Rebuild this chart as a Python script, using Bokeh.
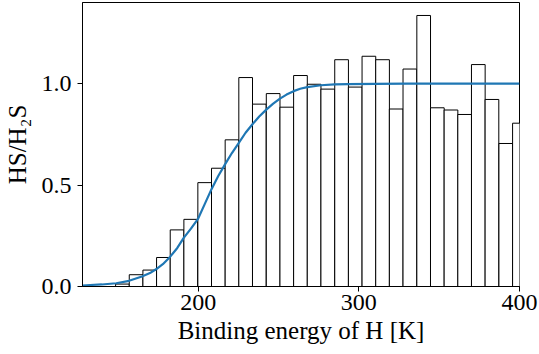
from bokeh.plotting import figure
from bokeh.models import FixedTicker, PrintfTickFormatter, Range1d
from bokeh.embed import file_html
from bokeh.resources import INLINE

# ---- data ----
bin_left = [148.6, 157.1, 165.6, 174.1, 182.6, 191.1, 199.8, 208.3, 216.8, 225.3,
            233.8, 242.4, 250.9, 259.4, 267.9, 276.4, 285.0, 293.5, 302.0, 310.5,
            319.0, 327.5, 336.1, 344.6, 353.1, 361.6, 370.1, 378.6, 387.2, 395.7]
bin_width = 8.52
ratio = [0.012, 0.058, 0.081, 0.143, 0.279, 0.331, 0.512, 0.583, 0.723, 1.030,
         0.899, 0.951, 0.884, 1.040, 0.997, 0.973, 1.118, 0.983, 1.135, 1.118,
         0.875, 1.072, 1.336, 0.881, 0.870, 0.848, 1.094, 0.922, 0.705, 0.805]

fit_x = [128, 140, 149, 157, 165, 170, 174, 178, 182.6, 187, 191, 195.5, 200, 204,
         208.3, 212.5, 216.8, 221, 225.3, 229.5, 233.8, 238, 242.4, 246.5, 250.9,
         255, 259.4, 263.5, 267.9, 276.4, 285, 293.5, 310, 330, 400]
fit_y = [0.005, 0.010, 0.016, 0.028, 0.049, 0.066, 0.086, 0.110, 0.147, 0.190,
         0.240, 0.285, 0.335, 0.405, 0.480, 0.545, 0.603, 0.658, 0.708, 0.758,
         0.800, 0.838, 0.872, 0.900, 0.926, 0.946, 0.963, 0.975, 0.983, 0.992,
         0.996, 0.998, 0.999, 1.0, 1.0]

x_ticks = [200, 300, 400]
y_ticks = [0.0, 0.5, 1.0]

FONT = "Liberation Serif"

p = figure(width=539, height=354, output_backend="svg", toolbar_location=None,
           x_range=Range1d(128, 400), y_range=Range1d(0, 1.4),
           min_border_left=81, min_border_right=20, min_border_top=2,
           min_border_bottom=68)

p.background_fill_color = "white"
p.border_fill_color = "white"
p.outline_line_color = "black"
p.outline_line_width = 1
p.grid.visible = False

rights = [l + bin_width for l in bin_left]
p.quad(left=bin_left, right=rights, bottom=0, top=ratio,
       fill_color="white", line_color="black", line_width=1)
p.line(fit_x, fit_y, line_color="#1f77b4", line_width=2.2, line_join="round")

for ax in (p.xaxis, p.yaxis):
    ax.axis_line_color = "black"
    ax.major_tick_line_color = "black"
    ax.major_tick_out = 5
    ax.major_tick_in = 0
    ax.minor_tick_line_color = None
    ax.major_label_text_font = FONT
    ax.major_label_text_font_size = "24px"
    ax.major_label_text_color = "black"
    ax.axis_label_text_font = FONT
    ax.axis_label_text_font_size = "25px"
    ax.axis_label_text_font_style = "normal"
    ax.axis_label_text_color = "black"

p.xaxis.ticker = FixedTicker(ticks=x_ticks)
p.xaxis.formatter = PrintfTickFormatter(format="%d")
p.xaxis.major_label_standoff = 3
p.xaxis.axis_label = "Binding energy of H [K]"
p.xaxis.axis_label_standoff = 4

p.yaxis.ticker = FixedTicker(ticks=y_ticks)
p.yaxis.formatter = PrintfTickFormatter(format="%.1f")
p.yaxis.major_label_standoff = 6
p.yaxis.axis_label = "HS/H₂S"
p.yaxis.axis_label_standoff = 8

open("out.html", "w").write(file_html(p, INLINE))
